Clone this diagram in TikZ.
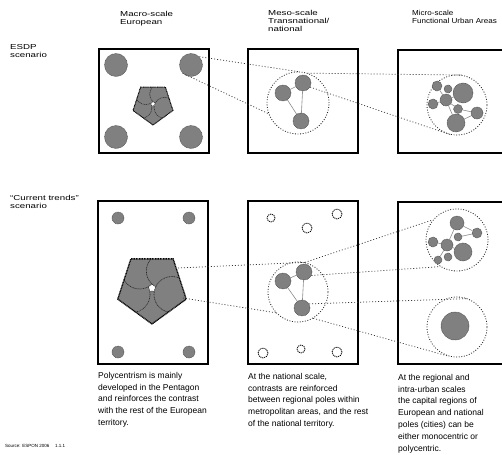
\documentclass[tikz,border=0pt]{standalone}
\usepackage{fontspec}
\setmainfont{Liberation Sans}
\newfontfamily\widefont[FakeStretch=1.35]{Liberation Sans}
\newfontfamily\semiwidefont[FakeStretch=1.12]{Liberation Sans}
\usetikzlibrary{calc}
\definecolor{blobgray}{RGB}{128,128,128}
\begin{document}
\begin{tikzpicture}[x=1pt,y=-1pt,
  framebox/.style={line width=1.5pt},
  blob/.style={circle,inner sep=0pt,fill=blobgray,draw=black!70,line width=0.5pt,dash pattern=on 0.8pt off 0.6pt},
  hollow/.style={circle,inner sep=0pt,fill=white,draw=black,line width=0.8pt,dash pattern=on 1.2pt off 0.8pt},
  link/.style={draw=black!45,line width=0.6pt},
  zone/.style={circle,inner sep=0pt,draw=black!85,line width=0.8pt,dash pattern=on 0.9pt off 1.7pt},
  conn/.style={draw=black!80,line width=0.7pt,dash pattern=on 1pt off 2pt},
  petal/.style={fill=blobgray,draw=black!85,line width=0.6pt,dash pattern=on 1pt off 0.7pt},
  headtxt/.style={anchor=north west,align=left,font=\widefont\fontsize{7.2}{8}\selectfont,inner sep=0pt},
  bodytxt/.style={anchor=north west,align=left,font=\fontsize{8.5}{11.8}\selectfont,inner sep=0pt}]
\useasboundingbox (0,0) rectangle (502,454);
\fill[white] (0,0) rectangle (502,454);

% headers
\node[headtxt] (h1) at (120,11) {Macro-scale\\European};
\node[headtxt] (h2) at (268,10) {Meso-scale\\Transnational/\\national};
\node[headtxt,font=\semiwidefont\fontsize{7.2}{8}\selectfont] (h3) at (412,10) {Micro-scale\\Functional Urban Areas};
\node[headtxt] (l1) at (10,44) {ESDP\\scenario};
\node[headtxt] (l2) at (10,195) {“Current trends”\\scenario};

% frames
\draw[framebox] (99,49) rectangle (209,153);
\draw[framebox] (248,49) rectangle (358,153);
\draw[framebox] (503,50) -- (398,50) -- (398,153) -- (503,153);
\draw[framebox] (98,201) rectangle (208,364);
\draw[framebox] (248,201) rectangle (358,364);
\draw[framebox] (503,202) -- (398,202) -- (398,364) -- (503,364);

% ---------- top row, box 1
\node[blob,minimum size=23pt] (c1) at (116,65) {};
\node[blob,minimum size=23pt] (c2) at (191,65) {};
\node[blob,minimum size=23pt] (c3) at (116,137) {};
\node[blob,minimum size=23pt] (c4) at (191,137) {};
\coordinate (p1) at (153,104);
\begin{scope}
  \clip ($(p1)+(90:21)$) -- ($(p1)+(162:21)$) -- ($(p1)+(234:21)$) -- ($(p1)+(306:21)$) -- ($(p1)+(18:21)$) -- cycle;
  \foreach \k in {0,...,4}
    \filldraw[petal,line width=0.5pt] ($(p1)+(90+72*\k:12.2)$) circle (10.5);
\end{scope}
\draw[black,line width=1pt,dash pattern=on 0.8pt off 0.6pt] ($(p1)+(90:21)$) -- ($(p1)+(162:21)$) -- ($(p1)+(234:21)$) -- ($(p1)+(306:21)$) -- ($(p1)+(18:21)$) -- cycle;

% ---------- top row, box 2
\node[zone,minimum size=62pt] (z1) at (298,103) {};
\node[blob,minimum size=16pt] (m1) at (283,93) {};
\node[blob,minimum size=16pt] (m2) at (303,83) {};
\node[blob,minimum size=16pt] (m3) at (301,121) {};
\draw[link] (m1) -- (m2);
\draw[link] (m2) -- (m3);
\draw[link] (m1) -- (m3);

% ---------- top row, box 3
\node[zone,minimum size=60pt] (z2) at (457,105) {};
\node[blob,minimum size=10pt] (t1) at (437,86) {};
\node[blob,minimum size=8pt] (t2) at (448,89) {};
\node[blob,minimum size=20pt] (t3) at (463,93) {};
\node[blob,minimum size=12pt] (t4) at (446,100) {};
\node[blob,minimum size=10pt] (t5) at (433,104) {};
\node[blob,minimum size=9pt] (t6) at (458,109) {};
\node[blob,minimum size=12pt] (t7) at (477,113) {};
\node[blob,minimum size=18pt] (t8) at (456,123) {};
\draw[link] (t1) -- (t4);
\draw[link] (t4) -- (t5);
\draw[link] (t4) -- (t3);
\draw[link] (t4) -- (t6);
\draw[link] (t6) -- (t7);
\draw[link] (t4) -- (t8);
\draw[link] (t8) -- (t7);

% top connectors
\draw[conn] (c2.north east) -- (z1.north);
\draw[conn] (c2.south west) -- (z1.200);
\draw[conn] (z1.72) -- (z2.80);
\draw[conn] (m2.-30) -- (z2.-103);

% ---------- bottom row, box 1
\node[blob,minimum size=12pt] (s1) at (118,218) {};
\node[blob,minimum size=12pt] (s2) at (189,218) {};
\node[blob,minimum size=12pt] (s3) at (118,352) {};
\node[blob,minimum size=12pt] (s4) at (189,352) {};
\coordinate (p2) at (152,288);
\begin{scope}
  \clip ($(p2)+(90:36)$) -- ($(p2)+(162:36)$) -- ($(p2)+(234:36)$) -- ($(p2)+(306:36)$) -- ($(p2)+(18:36)$) -- cycle;
  \foreach \k in {0,...,4}
    \filldraw[petal] ($(p2)+(90+72*\k:21)$) circle (18);
\end{scope}
\draw[black,line width=1.3pt,dash pattern=on 1pt off 0.6pt] ($(p2)+(90:36)$) -- ($(p2)+(162:36)$) -- ($(p2)+(234:36)$) -- ($(p2)+(306:36)$) -- ($(p2)+(18:36)$) -- cycle;
\coordinate (pa) at (178,268);
\coordinate (pb) at (183,298);

% ---------- bottom row, box 2
\node[hollow,minimum size=8pt] (o1) at (271,218) {};
\node[hollow,minimum size=10pt] (o2) at (337,214) {};
\node[hollow,minimum size=10pt] (o3) at (307,228) {};
\node[hollow,minimum size=10pt] (o4) at (263,353) {};
\node[hollow,minimum size=8pt] (o5) at (301,349) {};
\node[hollow,minimum size=10pt] (o6) at (337,352) {};
\node[zone,minimum size=60pt] (z3) at (298,292) {};
\node[blob,minimum size=16pt] (m4) at (283,281) {};
\node[blob,minimum size=16pt] (m5) at (304,272) {};
\node[blob,minimum size=16pt] (m6) at (302,308) {};
\draw[link] (m4) -- (m5);
\draw[link] (m5) -- (m6);
\draw[link] (m4) -- (m6);

% ---------- bottom row, box 3
\node[zone,minimum size=62pt] (z4) at (457,240) {};
\node[blob,minimum size=14pt] (q1) at (457,223) {};
\node[blob,minimum size=10pt] (q2) at (477,233) {};
\node[blob,minimum size=8pt] (q3) at (458,237) {};
\node[blob,minimum size=10pt] (q4) at (433,242) {};
\node[blob,minimum size=12pt] (q5) at (447,245) {};
\node[blob,minimum size=18pt] (q6) at (463,252) {};
\node[blob,minimum size=8pt] (q7) at (448,257) {};
\node[blob,minimum size=8pt] (q8) at (438,260) {};
\draw[link] (q1) -- (q2);
\draw[link] (q1) -- (q5);
\draw[link] (q5) -- (q4);
\draw[link] (q5) -- (q6);
\draw[link] (q5) -- (q8);
\draw[link] (q3) -- (q2);
\node[zone,minimum size=60pt] (z5) at (457,327) {};
\node[blob,minimum size=28pt] (q9) at (455,326) {};

% bottom connectors
\draw[conn] (pa) -- (z3.77);
\draw[conn] (pb) -- (z3.223);
\draw[conn] (z3.77) -- (z4.140);
\draw[conn] (m5.-25) -- (z4.238);
\draw[conn] (m6.30) -- (z5.69);
\draw[conn] (z3.-60) -- (z5.-105);

% captions
\node[bodytxt] (t1cap) at (98,372) {Polycentrism is mainly\\developed in the Pentagon\\and reinforces the contrast\\with the rest of the European\\territory.};
\node[bodytxt] (t2cap) at (248,373) {At the national scale,\\contrasts are reinforced\\between regional poles within\\metropolitan areas, and the rest\\of the national territory.};
\node[bodytxt] (t3cap) at (398,374) {At the regional and\\intra-urban scales\\the capital regions of\\European and national\\poles (cities) can be\\either monocentric or\\polycentric.};
\node[anchor=north west,inner sep=0pt,font=\fontsize{4.5}{5}\selectfont] (src) at (5,444) {Source: ESPON 2006 \quad 1.1.1};
\end{tikzpicture}
\end{document}
